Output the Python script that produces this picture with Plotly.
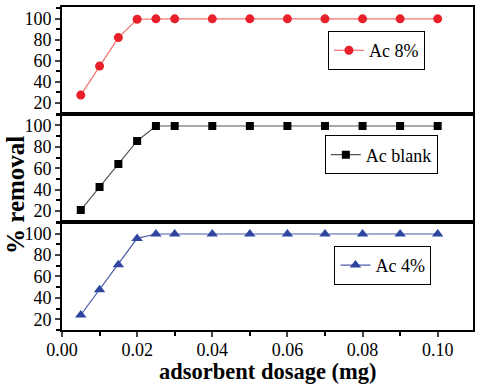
import plotly.graph_objects as go

dosage = [0.005, 0.01, 0.015, 0.02, 0.025, 0.03, 0.04, 0.05, 0.06, 0.07, 0.08, 0.09, 0.10]
ac8 = [27.5, 55, 82, 99.4, 99.8, 99.8, 99.8, 99.8, 99.8, 99.8, 99.8, 99.8, 99.8]
ac_blank = [21, 42.5, 64, 85.5, 99.4, 99.4, 99.4, 99.4, 99.4, 99.4, 99.4, 99.4, 99.4]
ac4 = [24, 47.5, 71, 95.5, 99.6, 99.6, 99.6, 99.6, 99.6, 99.6, 99.6, 99.6, 99.6]
series_names = ["Ac 8%", "Ac blank", "Ac 4%"]
yticks = [20, 40, 60, 80, 100]
xticks = [0.00, 0.02, 0.04, 0.06, 0.08, 0.10]

FONT = "'Liberation Serif', 'Times New Roman', Times, serif"
fig = go.Figure()

fig.add_trace(go.Scatter(x=dosage, y=ac8, mode="lines+markers", name=series_names[0],
                         line=dict(color="#f07070", width=1.2),
                         marker=dict(symbol="circle", size=9, color="#e8202a"),
                         xaxis="x", yaxis="y", legend="legend"))
fig.add_trace(go.Scatter(x=dosage, y=ac_blank, mode="lines+markers", name=series_names[1],
                         line=dict(color="#555555", width=1.2),
                         marker=dict(symbol="square", size=8, color="#000000"),
                         xaxis="x2", yaxis="y2", legend="legend2"))
fig.add_trace(go.Scatter(x=dosage, y=ac4, mode="lines+markers", name=series_names[2],
                         line=dict(color="#4a5aa8", width=1.2),
                         marker=dict(symbol="triangle-up", size=10, color="#2f46a0"),
                         xaxis="x3", yaxis="y3", legend="legend3"))

yaxis_common = dict(range=[10, 111], tickvals=yticks, ticks="outside", ticklen=5, tickwidth=2,
                    showline=True, mirror=True, linewidth=2, linecolor="black",
                    showgrid=False, zeroline=False, automargin=False,
                    tickfont=dict(family=FONT, size=18, color="black"),
                    minor=dict(dtick=10, ticks="outside", ticklen=4, tickwidth=1.5, tickcolor="black"))
xaxis_common = dict(range=[0, 0.1094], showline=True, mirror=True, linewidth=2, linecolor="black",
                    showgrid=False, zeroline=False, automargin=False)

doms = [[0.67, 1.0], [0.335, 0.67], [0.0, 0.335]]
fig.update_layout(
    width=480, height=386,
    margin=dict(l=62, r=7, t=7, b=56, autoexpand=False),
    paper_bgcolor="white", plot_bgcolor="white",
    xaxis=dict(**xaxis_common, anchor="y", showticklabels=False, ticks=""),
    xaxis2=dict(**xaxis_common, anchor="y2", matches="x", showticklabels=False, ticks=""),
    xaxis3=dict(**xaxis_common, anchor="y3", matches="x", tickvals=xticks, tickformat=".2f",
                ticks="outside", ticklen=5, tickwidth=2, ticklabelstandoff=-3,
                minor=dict(dtick=0.01, ticks="outside", ticklen=4, tickwidth=1.5, tickcolor="black"),
                tickfont=dict(family=FONT, size=18, color="black")),
    yaxis=dict(**yaxis_common, domain=doms[0], anchor="x"),
    yaxis2=dict(**yaxis_common, domain=doms[1], anchor="x2"),
    yaxis3=dict(**yaxis_common, domain=doms[2], anchor="x3"),
    showlegend=True,
)
legend_common = dict(bgcolor="white", bordercolor="black", borderwidth=1,
                     font=dict(family=FONT, size=18, color="black"),
                     xanchor="center", yanchor="middle", itemwidth=30, tracegroupgap=0)
fig.update_layout(
    legend=dict(**legend_common, x=0.765, y=0.865),
    legend2=dict(**legend_common, x=0.777, y=0.542),
    legend3=dict(**legend_common, x=0.781, y=0.200),
)
fig.add_annotation(text="<b>% removal</b>", textangle=-90, xref="paper", yref="paper",
                   x=(16 - 62) / 411, y=0.418, xanchor="center", yanchor="middle", showarrow=False,
                   font=dict(family=FONT, size=25, color="black"))
fig.add_annotation(text="<b>adsorbent dosage (mg)</b>", xref="paper", yref="paper",
                   x=0.5, y=(330 - 371.5) / 323, xanchor="center", yanchor="middle", showarrow=False,
                   font=dict(family=FONT, size=22.5, color="black"))

fig.write_html("out.html", config={"displayModeBar": False},
               post_script="document.body.style.margin='0';")
